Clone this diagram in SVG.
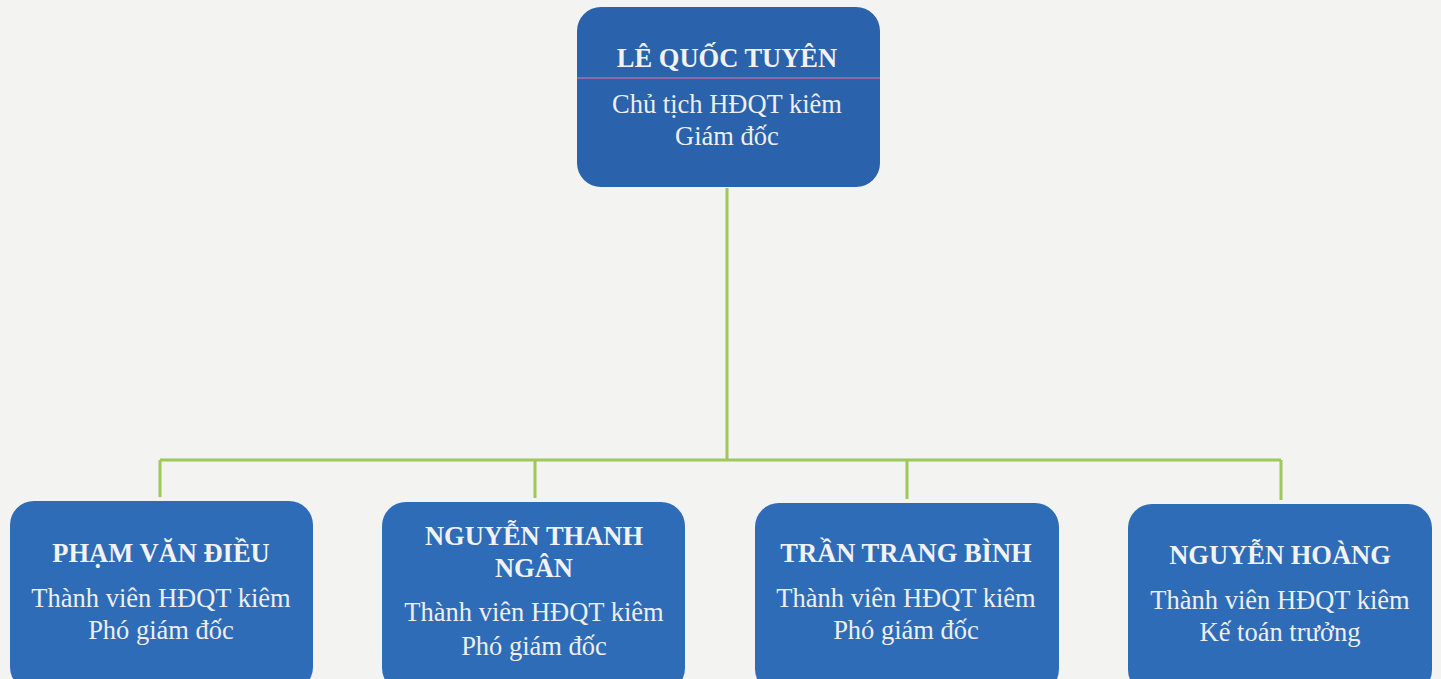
<svg xmlns="http://www.w3.org/2000/svg" width="1441" height="679" viewBox="0 0 1441 679">
<style>
.bg{fill:#f3f3f1}
.box{fill:#2e6cb8}
.top{fill:#2a62ab}
.name{font-family:"Liberation Serif","Times New Roman",serif;font-weight:bold;font-size:26.5px;fill:#f2f2f2;text-anchor:middle}
.role{font-family:"Liberation Serif","Times New Roman",serif;font-size:26.5px;fill:#eeeeee;text-anchor:middle}
.conn{stroke:#9dc85a;stroke-width:3;fill:none}
.streak{stroke:#c06aa8;stroke-width:2;opacity:0.7}
</style>
<rect class="bg" x="0" y="0" width="1441" height="679"/>
<g id="connectors">
<path class="conn" d="M727 188 V460 M160 460 H1281 M160 460 V497 M535 460 V498 M907 460 V499 M1281 460 V500"/>
</g>
<g id="node-le-quoc-tuyen">
<rect class="top" x="577" y="7" width="303" height="180" rx="24"/>
<line class="streak" x1="577" y1="78" x2="880" y2="78"/>
<text class="name" x="727" y="67">LÊ QUỐC TUYÊN</text>
<text class="role" x="727" y="113">Chủ tịch HĐQT kiêm</text>
<text class="role" x="727" y="145">Giám đốc</text>
</g>
<g id="node-pham-van-dieu">
<rect class="box" x="10" y="501" width="303" height="190" rx="24"/>
<text class="name" x="161" y="562">PHẠM VĂN ĐIỀU</text>
<text class="role" x="161" y="607">Thành viên HĐQT kiêm</text>
<text class="role" x="161" y="639">Phó giám đốc</text>
</g>
<g id="node-nguyen-thanh-ngan">
<rect class="box" x="382" y="502" width="303" height="190" rx="24"/>
<text class="name" x="534" y="545">NGUYỄN THANH</text>
<text class="name" x="534" y="577">NGÂN</text>
<text class="role" x="534" y="621">Thành viên HĐQT kiêm</text>
<text class="role" x="534" y="655">Phó giám đốc</text>
</g>
<g id="node-tran-trang-binh">
<rect class="box" x="755" y="503" width="304" height="190" rx="24"/>
<text class="name" x="906" y="562">TRẦN TRANG BÌNH</text>
<text class="role" x="906" y="607">Thành viên HĐQT kiêm</text>
<text class="role" x="906" y="639">Phó giám đốc</text>
</g>
<g id="node-nguyen-hoang">
<rect class="box" x="1128" y="504" width="304" height="190" rx="24"/>
<text class="name" x="1280" y="564">NGUYỄN HOÀNG</text>
<text class="role" x="1280" y="609">Thành viên HĐQT kiêm</text>
<text class="role" x="1280" y="641">Kế toán trưởng</text>
</g>
</svg>
